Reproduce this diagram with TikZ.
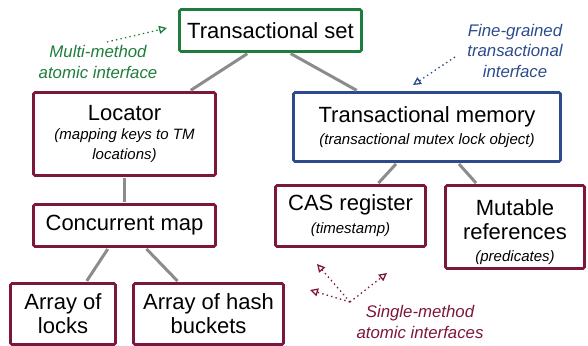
\documentclass[tikz,border=0pt]{standalone}
\usepackage{fontspec}
\setmainfont{Liberation Sans}
\usetikzlibrary{arrows.meta}
\definecolor{setgreen}{RGB}{30,125,60}
\definecolor{memblue}{RGB}{45,75,140}
\definecolor{objred}{RGB}{125,22,60}
\definecolor{linkgray}{RGB}{140,140,140}
\newcommand{\boxnote}[1]{{\fontsize{15}{19}\selectfont\itshape #1}}

\begin{document}
\begin{tikzpicture}[x=1pt, y=-1pt,
    box/.style={draw, line width=2.8pt, fill=white, rounded corners=1.5pt, align=center, inner sep=0pt, font=\fontsize{22}{24}\selectfont},
    link/.style={draw=linkgray, line width=3pt, shorten <=1.4pt, shorten >=1.4pt},
    remark/.style={font=\fontsize{16.8}{20.5}\selectfont\itshape, align=center},
    hint/.style={line width=1.3pt, dash pattern=on 1.4pt off 3.2pt, -{Triangle[open, length=8pt, width=8pt]}}]
    \useasboundingbox (0,0) rectangle (588,345);
    \clip (0,0) rectangle (588,345);

    % Nodes
    \node[box, draw=setgreen, minimum width=182pt, minimum height=42pt] (tset) at (270.5,30.5) {Transactional set};
    \node[box, draw=objred, minimum width=182pt, minimum height=83pt] (locator) at (124.5,134) {Locator\\[-5pt]\boxnote{(mapping keys to TM}\\[-4pt]\boxnote{locations)}};
    \node[box, draw=memblue, minimum width=267pt, minimum height=69pt] (tmem) at (427,127) {Transactional memory\\[-2pt]\boxnote{(transactional mutex lock object)}};
    \node[box, draw=objred, minimum width=182pt, minimum height=42pt] (cmap) at (124.5,225.5) {Concurrent map};
    \node[box, draw=objred, minimum width=150pt, minimum height=61pt] (cas) at (350.5,216) {CAS register\\[-1pt]\boxnote{(timestamp)}};
    \node[box, draw=objred, minimum width=139pt, minimum height=83pt] (mutable) at (515,227) {\rule{0pt}{26pt}Mutable\\references\\[-2pt]\boxnote{(predicates)}};
    \node[box, draw=objred, minimum width=105pt, minimum height=61pt] (locks) at (63,314) {Array of\\locks};
    \node[box, draw=objred, minimum width=150pt, minimum height=61pt] (buckets) at (208.5,314) {Array of hash\\buckets};

    % Links
    \draw[link] ([xshift=-22pt]tset.south) -- ([xshift=65pt]locator.north);
    \draw[link] ([xshift=19pt]tset.south) -- ([xshift=-69pt]tmem.north);
    \draw[link] (locator.south) -- (cmap.north);
    \draw[link] ([xshift=-16pt]cmap.south) -- ([xshift=23pt]locks.north);
    \draw[link] ([xshift=21pt]cmap.south) -- ([xshift=-30pt]buckets.north);
    \draw[link] ([xshift=-30pt]tmem.south) -- ([xshift=27pt]cas.north);
    \draw[link] ([xshift=31pt]tmem.south) -- ([xshift=-38pt]mutable.north);

    % Remarks
    \node[remark, text=setgreen] (multi) at (98,62) {Multi-method\\atomic interface};
    \node[remark, text=memblue] (fine) at (515,50.5) {Fine-grained\\transactional\\interface};
    \node[remark, text=objred] (single) at (420,322) {Single-method\\atomic interfaces};
    \coordinate (multi from) at (107,42);
    \coordinate (multi to) at (167,28);
    \coordinate (fine from) at (455,57);
    \coordinate (fine to) at (413,85);
    \coordinate (single from) at (350,302);
    \coordinate (single cas) at (317,264);
    \coordinate (single buckets) at (310,290);
    \coordinate (single mutable) at (387,273);
    \draw[hint, setgreen] (multi from) -- (multi to);
    \draw[hint, memblue] (fine from) -- (fine to);
    \draw[hint, objred] (single from) -- (single cas);
    \draw[hint, objred] (single from) -- (single buckets);
    \draw[hint, objred] (single from) -- (single mutable);
\end{tikzpicture}
\end{document}
